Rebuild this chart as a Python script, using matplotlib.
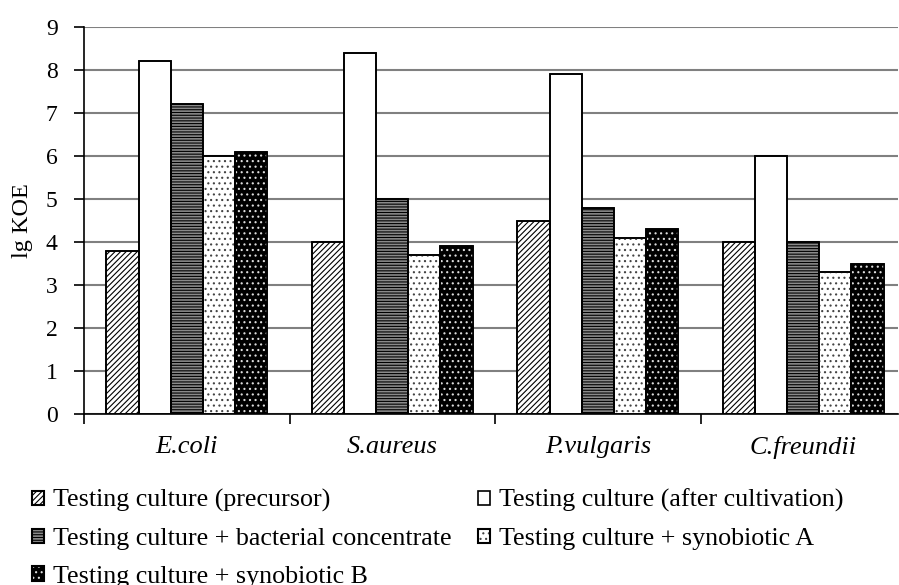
import matplotlib
matplotlib.use("Agg")
import matplotlib.pyplot as plt
import numpy as np
from matplotlib.patches import Patch
from matplotlib.legend_handler import HandlerTuple

categories = ["E.coli", "S.aureus", "P.vulgaris", "C.freundii"]
series_names = [
    "Testing culture (precursor)",
    "Testing culture (after cultivation)",
    "Testing culture + bacterial concentrate",
    "Testing culture + synobiotic A",
    "Testing culture + synobiotic B",
]
precursor = [3.8, 4.0, 4.5, 4.0]
after_cultivation = [8.2, 8.4, 7.9, 6.0]
bacterial_conc = [7.2, 5.0, 4.8, 4.0]
synobiotic_a = [6.0, 3.7, 4.1, 3.3]
synobiotic_b = [6.1, 3.9, 4.3, 3.5]
yticks = list(range(0, 10))

series = [precursor, after_cultivation, bacterial_conc, synobiotic_a, synobiotic_b]

plt.rcParams['font.family'] = ['Liberation Serif', 'DejaVu Serif']
plt.rcParams['hatch.linewidth'] = 0.8

fig = plt.figure(figsize=(8.99, 5.85), dpi=100)
ax = fig.add_axes([84/899, 1 - 414/585, (898 - 84)/899, (414 - 27)/585])

n = len(series)
gap = 1.4
bw = 1.0 / (n + gap)
x = np.arange(len(categories))

styles = [
    dict(face="white", hatch="//////", hcolor="black"),
    dict(face="white", hatch=None, hcolor="black"),
    dict(face="#8a8a8a", hatch="------", hcolor="black"),
    dict(face="white", hatch="...", hcolor="#444444"),
    dict(face="black", hatch="...", hcolor="#dddddd"),
]

handles = []
for i, (vals, st) in enumerate(zip(series, styles)):
    pos = x - 0.5 + (gap / 2) * bw + (i + 0.5) * bw
    ax.bar(pos, vals, width=bw, color=st["face"], edgecolor="black", linewidth=1.2, zorder=3)
    if st["hatch"]:
        ax.bar(pos, vals, width=bw, fill=False, hatch=st["hatch"], edgecolor=st["hcolor"], linewidth=0, zorder=4)
    ax.bar(pos, vals, width=bw, fill=False, edgecolor="black", linewidth=1.2, zorder=5)
    base = Patch(facecolor=st["face"], edgecolor="black", linewidth=1.2)
    if st["hatch"]:
        hp = Patch(fill=False, hatch=st["hatch"], edgecolor=st["hcolor"], linewidth=0)
        outline = Patch(fill=False, edgecolor="black", linewidth=1.5)
        handles.append((base, hp, outline))
    else:
        handles.append(base)

ax.set_ylim(0, 9)
ax.set_xlim(-0.5, 3.5 - 8/205.5)
ax.set_yticks(yticks)
ax.yaxis.grid(True, color="#808080", linewidth=1.5, zorder=0)
ax.set_axisbelow(True)
ax.set_xticks([-0.5, 0.5, 1.5, 2.5])
ax.set_xticklabels([])
ax.set_xticks(x, minor=True)
ax.set_xticklabels(categories, minor=True, fontstyle="italic", fontsize=19)
ax.tick_params(axis="x", which="minor", length=0, pad=16)
ax.tick_params(axis="x", which="major", length=7, width=1.2, direction="out")
ax.tick_params(axis="y", length=7, width=1.2, direction="out", labelsize=17, pad=12)
for s in ["top", "right"]:
    ax.spines[s].set_visible(False)
ax.spines["left"].set_linewidth(1.2)
ax.spines["bottom"].set_linewidth(1.2)
ax.set_ylabel("lg KOE", fontsize=17.5)
ax.yaxis.set_label_coords((33 - 84) / 814, 0.5)

order = [0, 2, 4, 1, 3]
leg = fig.legend([handles[k] for k in order], [series_names[k] for k in order],
                 handler_map={tuple: HandlerTuple(ndivide=1, pad=0)},
                 ncol=2, frameon=False, loc="upper left", bbox_to_anchor=(32/899, 1 - 489/585),
                 fontsize=18.7, handlelength=0.48, handleheight=0.48, handletextpad=0.33,
                 columnspacing=1.0, labelspacing=0.6, borderaxespad=0, borderpad=0)

fig.savefig("out.png", dpi=100)
